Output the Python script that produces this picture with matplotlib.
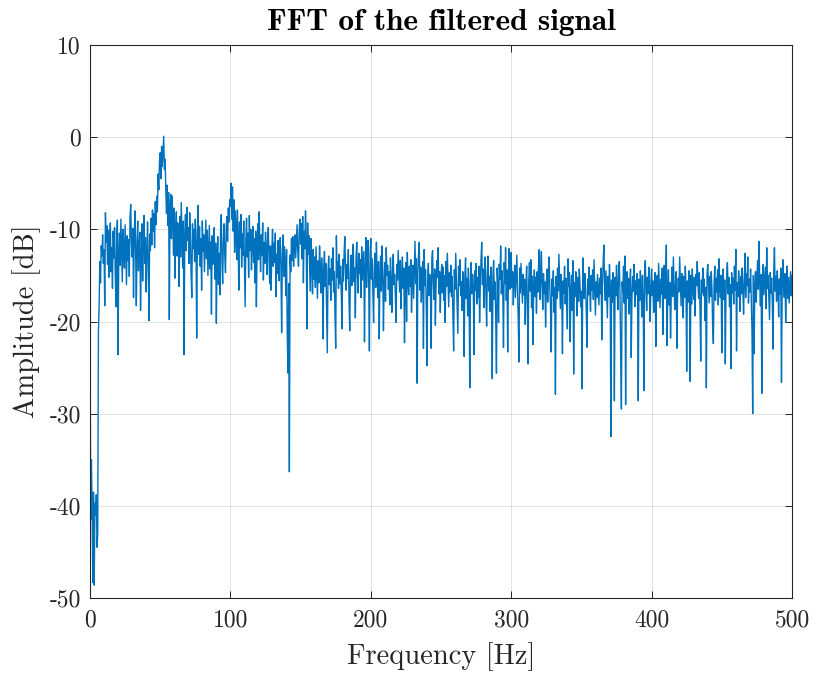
import numpy as np
import matplotlib
matplotlib.use("Agg")
import matplotlib.pyplot as plt

# Amplitude (dB), 0.5 Hz steps, split by 50 Hz bands
amp_000_050 = [-17.0, -41.5, -35.0, -40.2, -48.3, -38.5, -48.6, -39.7, -41.0, -38.8,
               -44.5, -43.0, -21.2, -18.3, -13.5, -15.8, -11.8, -12.9, -10.6, -13.7,
               -12.2, -18.3, -8.2, -11.4, -9.6, -13.8, -10.1, -15.2, -11.0, -9.3,
               -14.6, -12.0, -16.4, -10.2, -13.1, -9.8, -14.9, -18.4, -11.3, -9.0,
               -23.6, -12.5, -10.4, -13.9, -8.9, -12.1, -15.7, -10.0, -11.9, -14.2,
               -9.5, -12.8, -16.0, -10.7, -13.4, -11.1, -15.1, -8.7, -7.3, -11.6,
               -13.0, -9.9, -17.4, -10.8, -8.0, -12.4, -18.3, -11.2, -9.1, -14.5,
               -12.0, -10.3, -18.8, -13.3, -9.4, -15.6, -11.5, -8.5, -13.7, -10.9,
               -16.8, -12.6, -9.2, -14.1, -19.9, -10.5, -12.3, -8.8, -11.7, -7.9,
               -10.2, -8.3, -12.0, -7.0, -9.5, -6.4, -8.1, -4.0, -5.7, -2.6]
amp_050_100 = [-1.7, -4.5, -1.0, -3.2, -1.5, 0.1, -3.5, -2.4, -5.8, -8.3,
               -5.2, -9.6, -6.0, -19.8, -7.5, -6.2, -11.0, -6.4, -9.0, -12.8,
               -7.7, -15.3, -10.6, -8.1, -12.9, -9.3, -11.8, -16.2, -8.6, -13.0,
               -7.1, -10.4, -14.2, -9.1, -23.6, -10.7, -8.4, -12.3, -7.6, -11.2,
               -9.8, -13.7, -8.2, -10.5, -14.8, -17.4, -9.4, -12.1, -10.0, -13.5,
               -8.9, -11.6, -21.8, -10.3, -7.4, -12.7, -9.7, -14.0, -11.0, -16.6,
               -9.1, -12.4, -10.6, -14.6, -11.8, -9.0, -13.2, -10.1, -15.0, -12.2,
               -9.6, -14.3, -11.4, -19.2, -10.7, -13.8, -12.0, -9.8, -15.4, -11.5,
               -20.2, -13.1, -10.8, -16.0, -12.6, -17.1, -10.2, -8.4, -13.6, -15.9,
               -11.1, -9.4, -12.9, -14.7, -10.0, -8.6, -11.3, -7.7, -9.2, -6.8]
amp_100_150 = [-7.5, -5.0, -8.9, -5.4, -10.2, -6.8, -12.5, -8.0, -9.6, -13.3,
               -7.9, -11.1, -16.6, -9.2, -12.0, -8.4, -14.1, -10.5, -12.8, -9.1,
               -13.9, -18.4, -11.2, -8.8, -13.0, -10.4, -15.2, -8.5, -12.3, -10.0,
               -14.4, -11.6, -9.7, -13.6, -11.0, -15.8, -10.2, -18.4, -12.1, -9.4,
               -13.3, -8.1, -11.7, -14.6, -10.6, -12.8, -9.3, -15.5, -11.4, -13.7,
               -10.3, -12.0, -14.9, -11.1, -9.8, -13.2, -15.9, -11.8, -16.6, -12.4,
               -10.0, -14.0, -11.5, -13.6, -10.4, -17.3, -12.7, -14.8, -11.2, -15.6,
               -13.0, -10.9, -14.3, -21.2, -12.5, -10.6, -15.1, -11.9, -13.8, -17.2,
               -12.2, -21.5, -25.6, -15.9, -36.3, -12.8, -14.6, -11.0, -13.4, -10.8,
               -14.0, -12.0, -10.6, -13.1, -11.3, -9.5, -12.4, -14.0, -10.1, -8.9]
amp_150_200 = [-11.6, -9.4, -13.2, -8.6, -15.8, -10.2, -12.1, -8.0, -11.4, -20.8,
               -9.3, -12.7, -10.7, -14.5, -16.7, -11.0, -13.6, -17.0, -12.2, -15.4,
               -13.0, -16.3, -11.9, -14.7, -17.5, -13.4, -15.8, -11.8, -14.1, -16.9,
               -13.1, -15.0, -21.9, -14.0, -12.4, -16.2, -13.7, -18.6, -23.4, -14.8,
               -12.9, -16.0, -14.3, -17.7, -13.2, -15.5, -12.0, -16.8, -14.6, -19.3,
               -22.9, -10.7, -15.2, -13.5, -16.4, -12.7, -15.9, -14.0, -17.1, -20.8,
               -13.3, -15.6, -12.5, -10.8, -14.7, -16.6, -13.8, -15.3, -12.2, -17.9,
               -21.0, -14.4, -12.8, -16.1, -13.6, -11.6, -15.7, -14.2, -19.6, -13.0,
               -11.4, -15.0, -16.9, -12.6, -14.8, -13.3, -17.4, -11.9, -15.5, -13.9,
               -12.4, -22.2, -14.5, -10.9, -16.3, -13.1, -11.2, -15.8, -23.2, -12.7]
amp_200_250 = [-11.0, -15.4, -13.2, -17.0, -20.1, -14.1, -12.6, -16.3, -11.4, -14.8,
               -17.4, -13.5, -21.9, -15.2, -12.9, -16.7, -11.8, -14.4, -21.0, -15.9,
               -13.6, -17.8, -12.0, -15.0, -13.9, -16.5, -14.6, -18.2, -13.1, -15.7,
               -19.0, -14.3, -12.7, -16.0, -14.9, -17.3, -20.1, -13.8, -15.5, -12.3,
               -14.7, -16.8, -13.4, -18.6, -15.1, -13.0, -16.4, -14.2, -22.3, -15.8,
               -13.6, -20.0, -12.5, -15.3, -17.1, -14.0, -16.2, -13.3, -19.0, -15.6,
               -13.9, -17.5, -14.5, -11.3, -15.9, -13.2, -26.7, -14.8, -12.6, -11.4,
               -16.6, -14.1, -17.9, -15.0, -13.5, -22.9, -12.2, -16.1, -14.4, -18.3,
               -24.8, -15.5, -13.7, -17.2, -14.9, -16.4, -22.9, -13.0, -12.3, -15.8,
               -17.6, -14.3, -20.4, -16.0, -13.4, -15.2, -12.0, -17.0, -14.6, -19.0]
amp_250_300 = [-15.3, -13.8, -16.9, -14.1, -17.7, -15.0, -20.1, -13.5, -16.2, -12.6,
               -15.6, -18.4, -14.7, -16.8, -13.9, -17.3, -15.1, -19.5, -23.2, -14.4,
               -16.5, -12.6, -15.4, -17.9, -21.3, -14.0, -16.1, -13.3, -17.2, -15.7,
               -18.8, -14.6, -16.4, -23.8, -15.0, -13.1, -17.5, -15.3, -19.4, -14.2,
               -16.9, -27.2, -15.8, -13.6, -17.0, -14.9, -16.3, -23.6, -14.5, -16.6,
               -13.7, -18.1, -15.2, -17.4, -14.0, -20.1, -15.9, -13.2, -11.4, -16.0,
               -14.3, -18.5, -15.5, -13.0, -17.1, -20.5, -14.8, -12.9, -16.7, -15.1,
               -18.9, -14.1, -16.4, -26.2, -15.0, -13.4, -17.6, -15.7, -19.8, -25.6,
               -14.2, -16.1, -20.1, -13.8, -15.4, -11.8, -17.0, -14.5, -16.8, -22.8,
               -13.6, -15.9, -12.0, -17.7, -14.4, -23.3, -15.2, -12.1, -16.5, -14.0]
amp_300_350 = [-12.5, -16.3, -14.6, -18.2, -15.5, -13.9, -17.4, -15.0, -12.8, -16.6,
               -19.7, -24.4, -14.2, -16.9, -13.7, -15.8, -18.0, -14.9, -17.1, -15.4,
               -20.3, -16.2, -14.0, -17.8, -24.6, -15.6, -13.6, -16.7, -13.3, -18.5,
               -15.1, -22.5, -16.0, -14.4, -17.3, -15.2, -19.1, -14.6, -16.8, -13.8,
               -12.2, -17.6, -15.3, -12.4, -16.4, -18.7, -14.8, -17.0, -15.7, -20.6,
               -16.1, -14.3, -17.9, -15.0, -13.0, -16.5, -18.3, -23.3, -15.4, -17.2,
               -14.5, -19.0, -16.3, -27.9, -15.1, -17.5, -14.2, -16.7, -12.7, -15.9,
               -18.6, -14.9, -17.0, -23.5, -15.6, -16.9, -14.0, -18.1, -15.3, -17.7,
               -20.8, -13.2, -16.2, -14.7, -22.2, -16.6, -15.0, -18.8, -13.4, -25.7,
               -15.8, -17.3, -14.6, -16.4, -19.4, -15.2, -17.8, -14.3, -16.0, -18.4]
amp_350_400 = [-16.7, -27.3, -13.1, -15.9, -17.5, -14.8, -16.3, -19.0, -22.8, -15.4,
               -17.1, -14.1, -16.8, -18.9, -15.0, -16.6, -14.4, -17.6, -13.3, -16.2,
               -19.3, -15.7, -17.4, -14.9, -16.5, -18.2, -15.3, -17.0, -14.2, -22.0,
               -16.1, -13.6, -11.7, -15.8, -17.7, -14.5, -16.9, -19.6, -15.1, -17.3,
               -13.8, -16.4, -32.5, -15.5, -17.9, -14.7, -16.0, -28.6, -15.2, -17.2,
               -13.9, -16.6, -18.7, -14.4, -13.5, -17.0, -23.9, -29.5, -15.7, -16.8,
               -14.0, -18.0, -12.9, -29.0, -16.2, -14.6, -17.5, -15.3, -19.2, -16.0,
               -14.3, -23.9, -17.3, -15.1, -16.7, -13.8, -18.4, -15.6, -17.1, -14.8,
               -16.9, -28.6, -15.4, -17.7, -14.5, -16.3, -19.5, -15.0, -17.6, -27.5,
               -14.9, -13.4, -16.5, -18.8, -15.2, -17.0, -14.1, -16.4, -20.0, -15.8]
amp_400_450 = [-14.3, -17.2, -15.6, -19.0, -16.1, -14.7, -22.7, -16.5, -15.0, -17.8,
               -13.7, -16.3, -18.5, -15.4, -17.0, -14.2, -21.4, -16.0, -13.9, -17.5,
               -15.2, -11.7, -22.6, -16.6, -14.4, -18.2, -15.8, -21.8, -16.9, -14.1,
               -17.3, -13.0, -15.9, -18.7, -16.2, -14.6, -22.9, -17.1, -15.3, -16.8,
               -13.0, -15.7, -18.3, -14.8, -16.5, -19.6, -15.1, -17.4, -14.0, -16.2,
               -25.4, -15.6, -17.9, -14.5, -16.7, -26.5, -15.0, -18.1, -14.3, -16.4,
               -17.6, -15.2, -19.4, -14.9, -16.1, -13.5, -15.8, -17.5, -14.7, -18.6,
               -24.3, -15.5, -16.9, -14.2, -17.2, -15.4, -19.9, -16.3, -27.2, -14.8,
               -13.8, -16.0, -18.0, -15.1, -17.3, -14.6, -16.6, -20.6, -22.4, -15.9,
               -14.0, -17.7, -15.3, -16.8, -14.4, -18.2, -13.2, -16.1, -17.4, -15.0]
amp_450_500 = [-23.4, -16.2, -14.3, -17.6, -15.5, -24.6, -16.7, -14.9, -13.6, -17.0,
               -15.2, -18.4, -16.0, -25.1, -14.7, -16.9, -15.3, -18.1, -14.0, -16.6,
               -12.2, -23.2, -15.8, -17.3, -14.5, -16.2, -18.9, -15.1, -17.0, -14.2,
               -16.4, -19.2, -15.6, -12.6, -17.4, -14.8, -16.1, -13.0, -18.0, -15.4,
               -16.8, -14.3, -17.7, -21.0, -30.0, -15.0, -23.5, -16.3, -14.6, -17.9,
               -15.2, -13.4, -16.5, -11.3, -15.7, -18.3, -14.9, -27.8, -16.0, -13.8,
               -17.1, -15.5, -14.1, -18.6, -12.0, -16.4, -15.0, -17.6, -19.8, -14.7,
               -16.9, -15.3, -18.2, -23.0, -14.4, -12.0, -16.7, -15.1, -17.8, -14.5,
               -16.2, -19.5, -15.4, -17.0, -14.2, -26.6, -16.6, -13.3, -15.9, -17.4,
               -14.8, -20.1, -16.1, -14.0, -17.5, -15.2, -18.0, -16.3, -14.6, -17.2,
               -15.0]

amplitude = np.array(amp_000_050 + amp_050_100 + amp_100_150 + amp_150_200 +
                     amp_200_250 + amp_250_300 + amp_300_350 + amp_350_400 +
                     amp_400_450 + amp_450_500)
frequency = np.linspace(0, 500, len(amplitude))

x_ticks = [0, 100, 200, 300, 400, 500]
y_ticks = [-50, -40, -30, -20, -10, 0, 10]

plt.rcParams['font.family'] = 'serif'
plt.rcParams['font.serif'] = ['cmr10', 'DejaVu Serif']
plt.rcParams['mathtext.fontset'] = 'cm'
plt.rcParams['axes.unicode_minus'] = False

fig = plt.figure(figsize=(8.16, 6.75), dpi=100)
ax = fig.add_axes([90/816, 77/675, 702/816, 553/675])

ax.plot(frequency, amplitude, color='#0072BD', linewidth=1.0)

ax.set_xlim(0, 500)
ax.set_ylim(-50, 10)
ax.set_xticks(x_ticks)
ax.set_yticks(y_ticks)
ax.set_xticklabels([str(t) for t in x_ticks])
ax.set_yticklabels([str(t) for t in y_ticks])
ax.grid(True, color='#262626', alpha=0.15, linewidth=0.6)
ax.set_axisbelow(True)
ax.tick_params(direction='in', top=True, right=True, length=5, width=0.7,
               colors='#262626', labelsize=17, labelcolor='#262626')
ax.tick_params(axis='x', pad=8)
ax.tick_params(axis='y', pad=6.5)
for s in ax.spines.values():
    s.set_color('#262626')
    s.set_linewidth(0.8)

ax.set_xlabel('Frequency [Hz]', fontsize=20.5, color='#262626', labelpad=8)
ax.set_ylabel('Amplitude [dB]', fontsize=20.5, color='#262626', labelpad=6)
ax.set_title('FFT of the filtered signal', fontsize=22.5, family='cmb10', color='black', pad=11)

fig.savefig('out.png', dpi=100)
